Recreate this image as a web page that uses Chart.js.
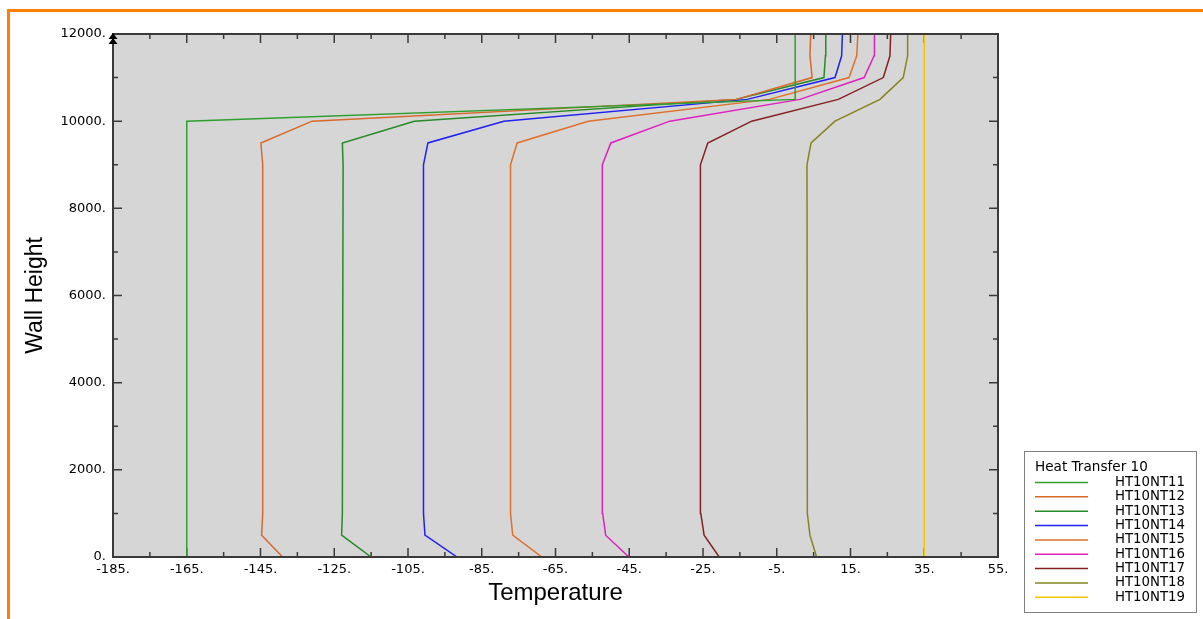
<!DOCTYPE html>
<html>
<head>
<meta charset="utf-8">
<script src="https://cdn.jsdelivr.net/npm/chart.js@4"></script>
<style>
html, body { margin: 0; padding: 0; background: #fff; overflow: hidden; }
#frame { position: absolute; left: 7px; top: 9px; width: 1400px; height: 800px;
         border-top: 3px solid #ff8000; border-left: 3px solid #ff8000; }
#wrap { position: absolute; left: 0; top: 0; width: 1203px; height: 619px; }
</style>
</head>
<body>
<div id="frame"></div>
<div id="wrap"><canvas id="chart" width="1203" height="619"></canvas></div>
<script>
// heights where the curves bend (shared by every series)
const heights = [0, 500, 1000, 9000, 9500, 10000, 10500, 11000, 11500, 12000];

// temperatures, one value per height
const ht10nt11 = [-165, -165, -165, -165, -165, -165, 0, 0, 0, 0];
const ht10nt12 = [-139, -144.7, -144.4, -144.4, -144.9, -131, -16, 4.6, 4.0, 4.2];
const ht10nt13 = [-115, -123, -122.8, -122.6, -122.8, -103.3, -16, 7.8, 8.2, 8.3];
const ht10nt14 = [-91.7, -100.4, -100.8, -100.8, -99.6, -79, -13, 10.8, 12.6, 12.8];
const ht10nt15 = [-68.7, -76.6, -77.2, -77.2, -75.4, -56.1, -7, 14.6, 16.7, 17];
const ht10nt16 = [-45.1, -51.4, -52.2, -52.3, -50, -34, 1.3, 18.7, 21.4, 21.5];
const ht10nt17 = [-20.6, -24.7, -25.6, -25.7, -23.7, -11.8, 11.7, 23.9, 25.7, 25.9];
const ht10nt18 = [5.8, 4.0, 3.3, 3.2, 4.3, 10.8, 23, 29.3, 30.5, 30.5];
const ht10nt19 = [35, 35, 35, 35, 35, 35, 35, 35, 35, 35];

const seriesNames = ["HT10NT11", "HT10NT12", "HT10NT13", "HT10NT14", "HT10NT15",
                     "HT10NT16", "HT10NT17", "HT10NT18", "HT10NT19"];
const seriesValues = [ht10nt11, ht10nt12, ht10nt13, ht10nt14, ht10nt15,
                      ht10nt16, ht10nt17, ht10nt18, ht10nt19];
const seriesColors = ["#2f9f2f", "#d8692a", "#268a26", "#2020f0", "#e0702a",
                      "#e020c0", "#852020", "#848420", "#f2c800"];

const xTicks = [-185, -165, -145, -125, -105, -85, -65, -45, -25, -5, 15, 35, 55];
const xMinorTicks = [-175, -155, -135, -115, -95, -75, -55, -35, -15, 5, 25, 45];
const yTicks = [0, 2000, 4000, 6000, 8000, 10000, 12000];
const yMinorTicks = [1000, 3000, 5000, 7000, 9000, 11000];

const legendTitle = "Heat Transfer 10";
const xTitle = "Temperature";
const yTitle = "Wall Height";

const tickFont = { family: "DejaVu Sans", size: 13 };

// background, inward ticks, frame and the little arrow marker
const framePlugin = {
    id: 'frame',
    beforeDatasetsDraw(chart) {
        const ctx = chart.ctx, a = chart.chartArea;
        const x = chart.scales.x, y = chart.scales.y;
        ctx.save();
        ctx.fillStyle = '#d6d6d6';
        ctx.fillRect(a.left, a.top, a.right - a.left, a.bottom - a.top);

        // ticks go under the curves
        ctx.strokeStyle = '#3a3a3a';
        ctx.lineWidth = 1.5;
        ctx.beginPath();
        function xTick(v, len) {
            const px = x.getPixelForValue(v);
            ctx.moveTo(px, a.bottom); ctx.lineTo(px, a.bottom - len);
            ctx.moveTo(px, a.top); ctx.lineTo(px, a.top + len);
        }
        function yTick(v, len) {
            const py = y.getPixelForValue(v);
            ctx.moveTo(a.left, py); ctx.lineTo(a.left + len, py);
            ctx.moveTo(a.right, py); ctx.lineTo(a.right - len, py);
        }
        xTicks.forEach(v => xTick(v, 9));
        xMinorTicks.forEach(v => xTick(v, 5));
        yTicks.forEach(v => yTick(v, 9));
        yMinorTicks.forEach(v => yTick(v, 5));
        ctx.stroke();
        ctx.restore();
    },
    afterDatasetsDraw(chart) {
        const ctx = chart.ctx, a = chart.chartArea;
        ctx.save();
        ctx.strokeStyle = '#3a3a3a';
        ctx.lineWidth = 2;
        ctx.strokeRect(a.left, a.top, a.right - a.left, a.bottom - a.top);

        // double arrow on top of the y axis
        ctx.fillStyle = '#000';
        [33, 38].forEach(function(top) {
            ctx.beginPath();
            ctx.moveTo(a.left, top);
            ctx.lineTo(a.left + 4.5, top + 6);
            ctx.lineTo(a.left - 4.5, top + 6);
            ctx.closePath();
            ctx.fill();
        });
        ctx.restore();
    },
    afterDraw(chart) {
        const ctx = chart.ctx;
        ctx.save();
        ctx.fillStyle = '#fff';
        ctx.fillRect(1024.5, 451.5, 172, 161);
        ctx.strokeStyle = '#808080';
        ctx.lineWidth = 1;
        ctx.strokeRect(1024.5, 451.5, 172, 161);
        ctx.fillStyle = '#000';
        ctx.font = '13.6px "DejaVu Sans"';
        ctx.textBaseline = 'middle';
        ctx.fillText(legendTitle, 1035, 467);
        ctx.font = '13.3px "DejaVu Sans"';
        chart.data.datasets.forEach(function(ds, i) {
            const ly = 482.5 + i * 14.35;
            ctx.strokeStyle = ds.borderColor;
            ctx.lineWidth = 1.5;
            ctx.beginPath();
            ctx.moveTo(1035, ly); ctx.lineTo(1088, ly);
            ctx.stroke();
            ctx.fillText(ds.label, 1115, ly);
        });
        ctx.restore();
    }
};

const datasets = seriesNames.map(function(name, i) {
    return {
        label: name,
        data: heights.map((h, j) => ({ x: seriesValues[i][j], y: h })),
        borderColor: seriesColors[i],
        borderWidth: 1.5,
        showLine: true,
        pointRadius: 0,
        fill: false,
        tension: 0
    };
});

const chart = new Chart(document.getElementById('chart'), {
    type: 'scatter',
    data: { datasets: datasets },
    options: {
        responsive: false,
        animation: false,
        layout: { padding: { top: 34, right: 205, bottom: 0, left: 0 } },
        plugins: { legend: { display: false }, tooltip: { enabled: false } },
        scales: {
            x: {
                type: 'linear',
                position: 'bottom',
                min: -185,
                max: 55,
                afterBuildTicks: s => { s.ticks = xTicks.map(v => ({ value: v })); },
                afterFit: s => { s.height = 62; },
                grid: { display: false, drawTicks: false },
                border: { display: false },
                ticks: {
                    font: tickFont, color: '#000', padding: 5,
                    maxRotation: 0, autoSkip: false,
                    callback: v => v + '.'
                },
                title: {
                    display: true, text: xTitle, color: '#000',
                    font: { family: "Liberation Sans", size: 24 },
                    padding: { top: 0, bottom: 11 }
                }
            },
            y: {
                type: 'linear',
                position: 'left',
                min: 0,
                max: 12000,
                afterBuildTicks: s => { s.ticks = yTicks.map(v => ({ value: v })); },
                afterFit: s => { s.width = 113; },
                grid: { display: false, drawTicks: false },
                border: { display: false },
                ticks: {
                    font: tickFont, color: '#000', padding: 7,
                    autoSkip: false,
                    callback: v => v + '.'
                },
                title: {
                    display: true, text: yTitle, color: '#000',
                    font: { family: "Liberation Sans", size: 23 },
                    padding: { top: 22, bottom: 0 }
                }
            }
        }
    },
    plugins: [framePlugin]
});
</script>
</body>
</html>
